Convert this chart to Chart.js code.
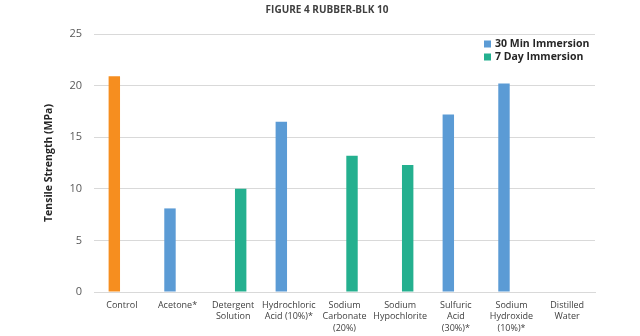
<!DOCTYPE html>
<html lang="en">
<head>
<meta charset="UTF-8">
<title>Figure 4 Rubber-BLK 10</title>
<script src="https://cdn.jsdelivr.net/npm/chart.js"></script>
<style>
body{margin:0;background:#fff;}
.wrap{width:640px;height:336px;}
</style>
</head>
<body>
<div class="wrap"><canvas id="tensileChart" width="640" height="336"></canvas></div>

<script>
/* ---------- data ---------- */
const categories=[
    "Control",
    "Acetone*",
    ["Detergent","Solution"],
    ["Hydrochloric","Acid (10%)*"],
    ["Sodium","Carbonate","(20%)"],
    ["Sodium","Hypochlorite"],
    ["Sulfuric","Acid","(30%)*"],
    ["Sodium","Hydroxide","(10%)*"],
    ["Distilled","Water"]
];
const min30=[20.9,8.1,null,16.5,null,null,17.2,20.2,null];
const day7 =[null,null,10.0,null,13.2,12.3,null,null,null];
const yTicks=[0,5,10,15,20,25];

const COLORS={
    orange:"#F68E1F",   // control bar
    blue  :"#5B9BD5",
    green :"#24B08F",
    grid  :"#D9D9D9",
    text  :"#404040",
    tick  :"#595959"
};
const FONT="'Open Sans', 'Noto Sans', sans-serif";

/* ---------- title + in-plot legend ---------- */
const decorations={
    id:"decorations",
    afterDraw(chart){
        const ctx=chart.ctx;
        ctx.save();
        ctx.fillStyle=COLORS.text;
        ctx.font="bold 10px "+FONT;
        ctx.textAlign="center";
        ctx.textBaseline="middle";
        ctx.fillText("FIGURE 4 RUBBER-BLK 10",327,10);

        const x=484,y0=44,row=13;
        ctx.font="bold 10.5px "+FONT;
        ctx.textAlign="left";
        chart.data.datasets.forEach((ds,i)=>{
            const y=y0+i*row;
            ctx.fillStyle=ds.legendColor;
            ctx.fillRect(x,y-3.5,7,7);
            ctx.fillStyle="#262626";
            ctx.fillText(ds.label,x+11,y);
        });
        ctx.restore();
    }
};

/* ---------- chart ---------- */
new Chart(document.getElementById("tensileChart"),{
    type:"bar",
    data:{
        labels:categories,
        datasets:[
            {label:"30 Min Immersion",data:min30,legendColor:COLORS.blue,
             backgroundColor:min30.map((v,i)=>i===0?COLORS.orange:COLORS.blue)},
            {label:"7 Day Immersion",data:day7,legendColor:COLORS.green,
             backgroundColor:COLORS.green}
        ]
    },
    options:{
        responsive:false,
        animation:false,
        layout:{padding:{top:34,right:45,left:0,bottom:0}},
        categoryPercentage:0.54,
        barPercentage:0.76,
        plugins:{legend:{display:false},title:{display:false},tooltip:{enabled:false}},
        scales:{
            x:{
                grid:{display:false,drawTicks:false},
                border:{display:true,color:COLORS.grid,width:1},
                ticks:{color:COLORS.text,font:{family:FONT,size:9,lineHeight:1.25},
                       padding:8,maxRotation:0,autoSkip:false},
                afterFit(s){s.height=44;}
            },
            y:{
                min:0,max:25,
                afterBuildTicks(s){s.ticks=yTicks.map(v=>({value:v}));},
                grid:{color:COLORS.grid,lineWidth:1,drawTicks:false},
                border:{display:false},
                ticks:{color:COLORS.tick,font:{family:FONT,size:11},padding:12},
                title:{display:true,text:"Tensile Strength (MPa)",color:"#262626",
                       font:{family:FONT,size:10.5,weight:"bold"},padding:{top:43}},
                afterFit(s){s.width=94;}
            }
        }
    },
    plugins:[decorations]
});
</script>
</body>
</html>
